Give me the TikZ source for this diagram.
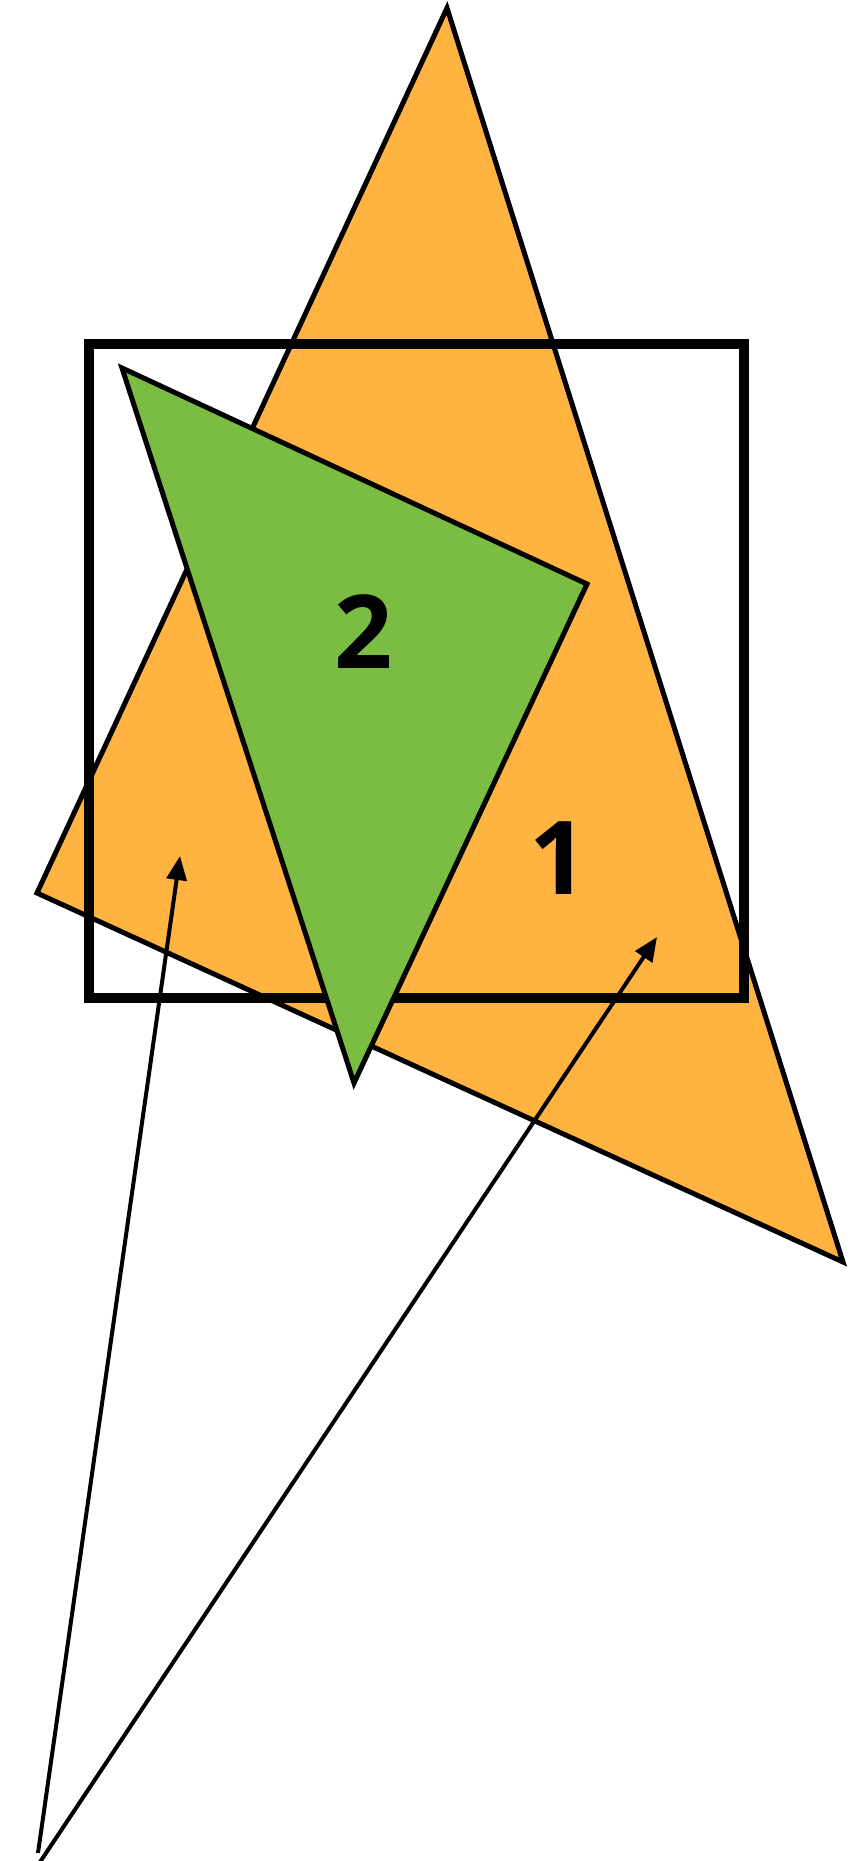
\documentclass[tikz,border=0pt]{standalone}
\usepackage{fontspec}
\setsansfont{Open Sans}
\usetikzlibrary{arrows.meta}
\definecolor{Amber}{HTML}{FFB341}
\definecolor{Leaf}{HTML}{7BBD42}
\begin{document}
\begin{tikzpicture}[x=1pt,y=-1pt,>={Triangle[length=24pt,width=20pt]},
  every node/.style={font=\sffamily\bfseries\fontsize{102}{102}\selectfont},
  piece/.style={draw=black,line width=5pt,line join=miter},
  frame/.style={draw=black,line width=10pt},
  arr/.style={draw=black,line width=4pt,->}]
\useasboundingbox[fill=white] (0,0) rectangle (849,1861);
% piece 1 and the frame
\path[piece,fill=Amber] (447,8)--(37,893)--(843,1262)--cycle;
\path[frame] (89,344) rectangle (744,998);
% piece 2
\path[piece,fill=Leaf] (122,368)--(587,584)--(354,1083)--cycle;
\node (one) at (559,858) {1};
\node (two) at (364,632) {2};
% moves
\coordinate (s1) at (38,1853);
\coordinate (t1) at (180,856);
\coordinate (s2) at (40,1862);
\coordinate (t2) at (657,937);
\draw[arr] (s1)--(t1);
\draw[arr] (s2)--(t2);
\end{tikzpicture}
\end{document}
